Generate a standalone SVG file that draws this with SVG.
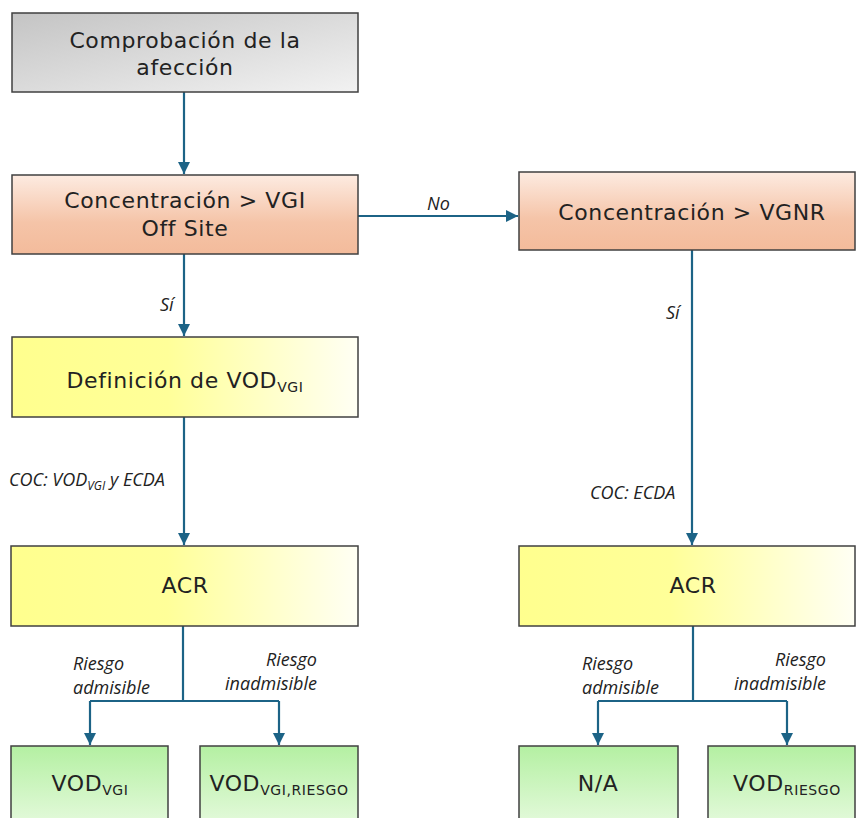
<svg xmlns="http://www.w3.org/2000/svg" width="856" height="818" viewBox="0 0 856 818">
<style>
.box{stroke:#404040;stroke-width:1.5}
.t{font-family:"DejaVu Sans",sans-serif;font-size:22px;letter-spacing:0.6px;fill:#222;text-anchor:middle}
.l{font-family:"Open Sans","Liberation Sans",sans-serif;font-style:italic;font-size:18px;fill:#222}
.c{fill:none;stroke:#1c6386;stroke-width:2.2}
</style>
<defs>
<linearGradient id="gGray" x1="0" y1="0" x2="1" y2="1"><stop offset="0" stop-color="#c4c4c4"/><stop offset="1" stop-color="#f2f2f2"/></linearGradient>
<linearGradient id="gPeach" x1="0" y1="0" x2="0" y2="1"><stop offset="0" stop-color="#fdebe1"/><stop offset="0.6" stop-color="#f5c4a8"/><stop offset="1" stop-color="#f3bb9b"/></linearGradient>
<linearGradient id="gYel" x1="0" y1="0" x2="1" y2="0"><stop offset="0" stop-color="#ffff8e"/><stop offset="0.45" stop-color="#ffff99"/><stop offset="1" stop-color="#fffff4"/></linearGradient>
<linearGradient id="gGreen" x1="0" y1="0" x2="0" y2="1"><stop offset="0" stop-color="#b4f0a2"/><stop offset="1" stop-color="#ebfbe4"/></linearGradient>
<marker id="ah" viewBox="0 0 10 10" refX="10" refY="5" markerWidth="5.5" markerHeight="5.5" orient="auto" markerUnits="strokeWidth"><path d="M0,0 L10,5 L0,10 z" fill="#1c6386"/></marker>
</defs>

<g id="connectors">
<path class="c" d="M184,92 V174" marker-end="url(#ah)"/>
<path class="c" d="M358,216 H518" marker-end="url(#ah)"/>
<path class="c" d="M184,254 V336" marker-end="url(#ah)"/>
<path class="c" d="M184,417 V545" marker-end="url(#ah)"/>
<path class="c" d="M692,250 V545" marker-end="url(#ah)"/>
<path class="c" d="M183,626 V701"/>
<path class="c" d="M90,701 H279"/>
<path class="c" d="M90,701 V745" marker-end="url(#ah)"/>
<path class="c" d="M279,701 V745" marker-end="url(#ah)"/>
<path class="c" d="M693,626 V701"/>
<path class="c" d="M598,701 H787"/>
<path class="c" d="M598,701 V745" marker-end="url(#ah)"/>
<path class="c" d="M787,701 V745" marker-end="url(#ah)"/>
</g>

<g id="labels">
<text class="l" x="427" y="210">No</text>
<text class="l" x="160" y="311">Sí</text>
<text class="l" x="666" y="319">Sí</text>
<text class="l" x="9" y="486">COC: VOD<tspan font-size="12" dy="4">VGI</tspan><tspan dy="-4"> y ECDA</tspan></text>
<text class="l" x="590" y="499">COC: ECDA</text>
<text class="l" x="73" y="670">Riesgo</text>
<text class="l" x="73" y="694">admisible</text>
<text class="l" x="317" y="666" text-anchor="end">Riesgo</text>
<text class="l" x="317" y="690" text-anchor="end">inadmisible</text>
<text class="l" x="582" y="670">Riesgo</text>
<text class="l" x="582" y="694">admisible</text>
<text class="l" x="826" y="666" text-anchor="end">Riesgo</text>
<text class="l" x="826" y="690" text-anchor="end">inadmisible</text>
</g>

<g id="n1"><rect class="box" x="12" y="13" width="346" height="79" fill="url(#gGray)"/>
<text class="t" x="185" y="48">Comprobación de la</text><text class="t" x="185" y="75">afección</text></g>

<g id="n2"><rect class="box" x="12" y="175" width="346" height="79" fill="url(#gPeach)"/>
<text class="t" x="185" y="208">Concentración &gt; VGI</text><text class="t" x="185" y="236">Off Site</text></g>

<g id="n3"><rect class="box" x="519" y="172" width="336" height="78" fill="url(#gPeach)"/>
<text class="t" x="692" y="220">Concentración &gt; VGNR</text></g>

<g id="n4"><rect class="box" x="12" y="337" width="346" height="80" fill="url(#gYel)"/>
<text class="t" x="185" y="388">Definición de VOD<tspan font-size="14" dy="4">VGI</tspan></text></g>

<g id="n5"><rect class="box" x="11" y="546" width="347" height="80" fill="url(#gYel)"/>
<text class="t" x="185" y="593">ACR</text></g>

<g id="n6"><rect class="box" x="519" y="546" width="336" height="80" fill="url(#gYel)"/>
<text class="t" x="693" y="593">ACR</text></g>

<g id="n7"><rect class="box" x="11" y="746" width="157" height="90" fill="url(#gGreen)"/>
<text class="t" x="90" y="791">VOD<tspan font-size="14" dy="4">VGI</tspan></text></g>

<g id="n8"><rect class="box" x="200" y="746" width="158" height="90" fill="url(#gGreen)"/>
<text class="t" x="279" y="791">VOD<tspan font-size="14" dy="4">VGI,RIESGO</tspan></text></g>

<g id="n9"><rect class="box" x="519" y="746" width="159" height="90" fill="url(#gGreen)"/>
<text class="t" x="598" y="791">N/A</text></g>

<g id="n10"><rect class="box" x="708" y="746" width="147" height="90" fill="url(#gGreen)"/>
<text class="t" x="787" y="791">VOD<tspan font-size="14" dy="4">RIESGO</tspan></text></g>
</svg>
